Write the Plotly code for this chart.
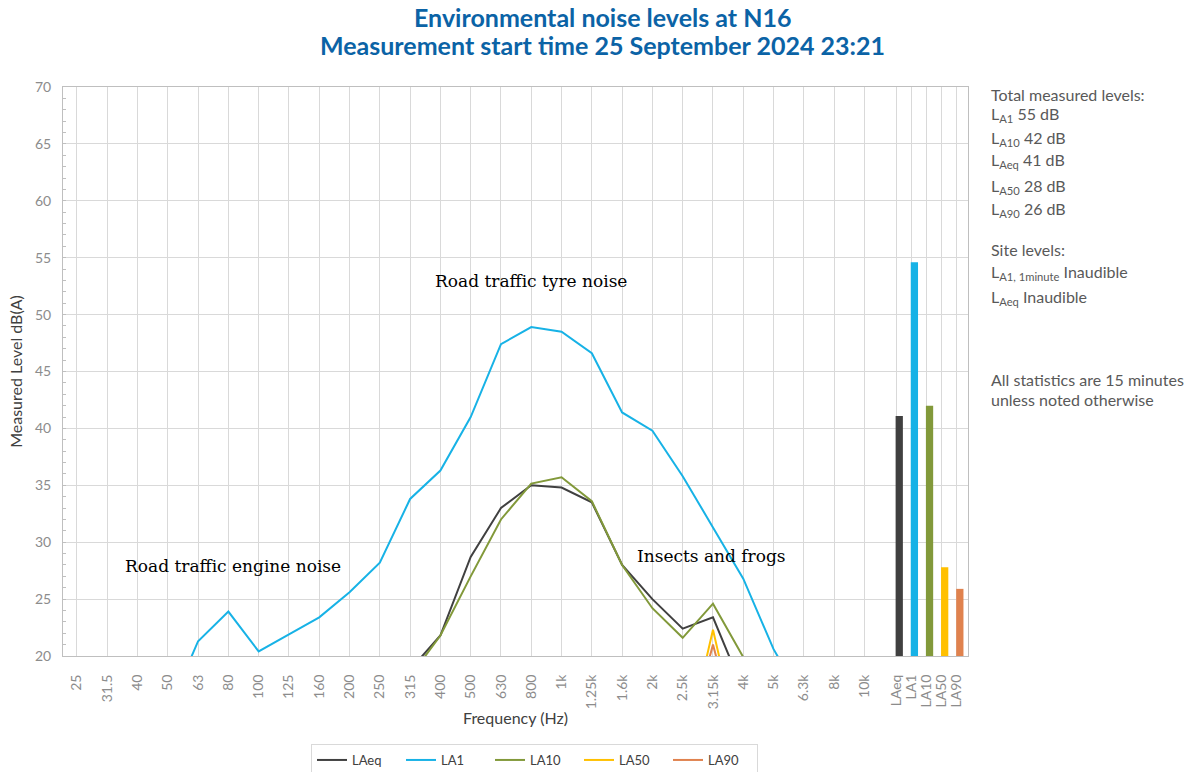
import plotly.graph_objects as go

# ---------------- data ----------------
freq_labels = ["25", "31.5", "40", "50", "63", "80", "100", "125", "160", "200", "250",
               "315", "400", "500", "630", "800", "1k", "1.25k", "1.6k", "2k", "2.5k",
               "3.15k", "4k", "5k", "6.3k", "8k", "10k"]
N = None
LAeq = [N, N, N, N, N, N, N, N, N, N, N,
        18.8, 21.8, 28.7, 33.0, 35.0, 34.8, 33.5, 28.0, 25.0, 22.4,
        23.4, 17.0, N, N, N, N]
LA1 = [N, N, N, 15.1, 21.3, 23.9, 20.4, 21.9, 23.4, 25.6, 28.2,
       33.8, 36.3, 41.0, 47.4, 48.9, 48.5, 46.6, 41.4, 39.8, 35.8,
       31.3, 26.8, 20.6, 16.0, N, N]
LA10 = [N, N, N, N, N, N, N, N, N, N, N,
        18.2, 21.8, 27.0, 32.0, 35.15, 35.7, 33.6, 28.0, 24.2, 21.6,
        24.6, 19.9, N, N, N, N]
LA50 = [N, N, N, N, N, N, N, N, N, N, N,
        N, N, N, N, N, N, N, N, N, 10.8,
        22.3, 10.8, N, N, N, N]
LA90 = [N, N, N, N, N, N, N, N, N, N, N,
        N, N, N, N, N, N, N, N, N, 11.0,
        21.0, 11.0, N, N, N, N]

bar_labels = ["LAeq", "LA1", "LA10", "LA50", "LA90"]
bar_values = [41.1, 54.6, 42.0, 27.8, 25.9]

series_names = ["LAeq", "LA1", "LA10", "LA50", "LA90"]
series_data = [LAeq, LA1, LA10, LA50, LA90]
colors = ["#404040", "#17b2e6", "#82993a", "#ffc000", "#e0824e"]

total_names = ["A1", "A10", "Aeq", "A50", "A90"]
total_levels = [55, 42, 41, 28, 26]

title_lines = ["Environmental noise levels at N16",
               "Measurement start time 25 September 2024 23:21"]

# ---------------- geometry (body margin removed via post_script) ----------------
OFF = 0
W, H = 1192 - OFF, 772 - OFF
PLOT_L, PLOT_R, PLOT_T, PLOT_B = 63 - OFF, 968 - OFF, 87 - OFF, 656 - OFF
L, R, T, B = PLOT_L, W - PLOT_R, PLOT_T, H - PLOT_B
PW, PH = PLOT_R - PLOT_L, PLOT_B - PLOT_T


def px_x(px):  # page pixel -> plot paper x
    return (px - OFF - PLOT_L) / PW


def px_y(py):  # page pixel -> plot paper y
    return (PLOT_B - (py - OFF)) / PH


# ---------------- figure ----------------
fig = go.Figure()
xf = list(range(len(freq_labels)))
bar_x = [len(freq_labels) + 0.05 + 0.5 * i for i in range(len(bar_labels))]

for name, data, col in zip(series_names, series_data, colors):
    fig.add_trace(go.Scatter(x=xf, y=data, mode="lines", name=name,
                             line=dict(color=col, width=2), connectgaps=False))

fig.add_trace(go.Bar(x=bar_x, y=[v - 20 for v in bar_values], base=20,
                     marker=dict(color=colors, line=dict(width=0)),
                     width=0.24, offset=-0.02, showlegend=False))

UI = "Lato, 'Liberation Sans', sans-serif"
SERIF = "'DejaVu Serif', serif"

fig.update_layout(
    width=W, height=H,
    margin=dict(l=L, r=R, t=T, b=B, autoexpand=False),
    plot_bgcolor="white", paper_bgcolor="white",
    font=dict(family=UI, color="#404040", size=14),
    showlegend=True,
    legend=dict(orientation="h", x=px_x(311), xanchor="left",
                y=px_y(744), yanchor="top",
                bordercolor="#d9d9d9", borderwidth=1, font=dict(size=13, color="#404040"),
                entrywidth=44, entrywidthmode="pixels", itemwidth=30,
                traceorder="normal", tracegroupgap=0),
)

fig.update_xaxes(
    range=[-0.46, 29.42], tickmode="array", automargin=False,
    tickvals=xf + bar_x, ticktext=freq_labels + bar_labels,
    tickangle=-90, tickfont=dict(size=14, color="#8c8c8c"),
    showgrid=True, gridcolor="#d9d9d9", gridwidth=1,
    showline=True, linecolor="#bfbfbf", linewidth=1, mirror=True,
    ticks="", ticklabelstandoff=12, zeroline=False,
    title=dict(text="Frequency (Hz)", font=dict(size=16, color="#404040"), standoff=4),
)
fig.update_yaxes(
    range=[20, 70], dtick=5, tick0=20, automargin=False,
    tickfont=dict(size=14, color="#8c8c8c"),
    showgrid=True, gridcolor="#d9d9d9", gridwidth=1,
    showline=True, linecolor="#bfbfbf", linewidth=1, mirror=True,
    ticks="inside", ticklen=3, tickcolor="#bfbfbf", ticklabelstandoff=8,
    minor=dict(dtick=1, ticks="inside", ticklen=3, tickcolor="#bfbfbf", showgrid=False),
    zeroline=False,
    title=dict(text="Measured Level dB(A)", font=dict(size=16, color="#404040"), standoff=8),
)

# title lines
for txt, ypx in zip(title_lines, [17, 45]):
    fig.add_annotation(x=px_x(602), y=px_y(ypx), xref="paper", yref="paper",
                       text=f"<b>{txt}</b>", showarrow=False, xanchor="center", yanchor="middle",
                       font=dict(family="Lato, sans-serif", size=25, color="#0b63a6"))

# serif annotations inside the plot
notes = [("Road traffic tyre noise", 15.0, 52.95),
         ("Road traffic engine noise", 5.16, 27.9),
         ("Insects and frogs", 20.94, 28.8)]
for txt, xx, yy in notes:
    fig.add_annotation(x=xx, y=yy, xref="x", yref="y", text=txt, showarrow=False,
                       font=dict(family=SERIF, size=17, color="#000000"))

# right-side text block
side = [("Total measured levels:", 94)]
ys = [115, 138, 161, 186, 209]
for nm, lv, yy in zip(total_names, total_levels, ys):
    side.append((f"L<sub>{nm}</sub> {lv} dB", yy))
side += [("Site levels:", 249),
         ("L<sub>A1, 1minute</sub> Inaudible", 272),
         ("L<sub>Aeq</sub> Inaudible", 297),
         ("All statistics are 15 minutes", 380),
         ("unless noted otherwise", 399)]
for txt, yy in side:
    fig.add_annotation(x=px_x(989), y=px_y(yy), xref="paper", yref="paper",
                       text=txt, showarrow=False, xanchor="left", yanchor="middle",
                       font=dict(family=UI, size=16, color="#595959"))

fig.write_html("out.html", config={"displayModeBar": False},
               post_script="document.body.style.margin='0px';document.body.style.overflow='hidden';")
